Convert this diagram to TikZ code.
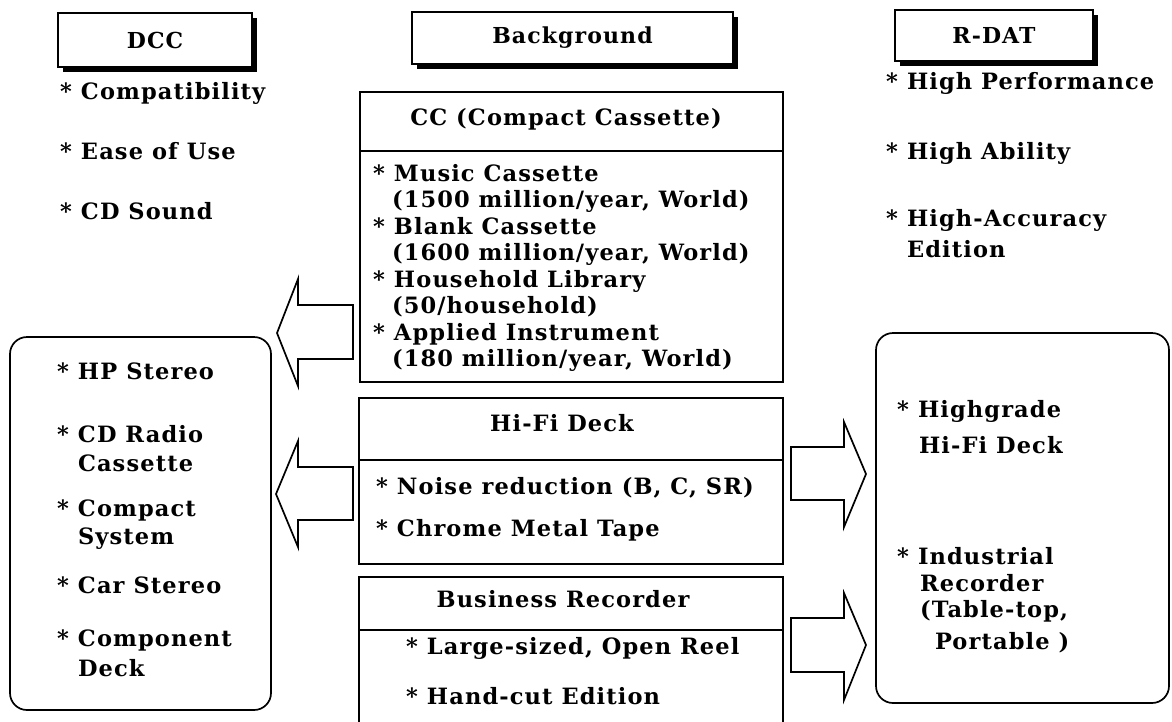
\documentclass[tikz,border=0pt]{standalone}
\usepackage{fontspec}
\newfontfamily\boxfont{DejaVu Serif}[LetterSpace=5]
\usetikzlibrary{shadows}
% leading asterisk of a list entry, in a fixed-width slot
\newcommand\itemstar{\makebox[21pt][l]{*}}
\begin{document}
\begin{tikzpicture}[x=1pt,y=-1pt,
  every node/.style={inner sep=0pt, outer sep=0pt},
  txt/.style={anchor=west, font=\boxfont\bfseries\fontsize{22.5}{25}\selectfont,
              text height=12pt, text depth=3pt},
  frame/.style={draw, line width=1.7pt, rectangle},
  header/.style={frame, fill=white, font=\boxfont\bfseries\fontsize{22}{24}\selectfont,
                 general shadow={fill=black, shadow xshift=5pt, shadow yshift=-5pt}},
  rbox/.style={frame, rounded corners=17pt},
  blockarrow/.style={draw, line width=1.7pt, line join=miter, fill=white},
]
\useasboundingbox (0,0) rectangle (1172,721);

% ---- column headers ----
\node[header, minimum width=194pt, minimum height=54pt] (dcc) at (155,40) {DCC};
\node[header, minimum width=321pt, minimum height=52pt] (bg) at (572.5,38) {Background};
\node[header, minimum width=198pt, minimum height=51pt] (rdat) at (994,35.5) {R-DAT};

% ---- DCC features ----
\node[txt] (l1) at (60,95)  {\itemstar Compatibility};
\node[txt] (l2) at (60,155) {\itemstar Ease of Use};
\node[txt] (l3) at (60,215) {\itemstar CD Sound};

% ---- R-DAT features ----
\node[txt] (r1) at (886,85)  {\itemstar High Performance};
\node[txt] (r2) at (886,155) {\itemstar High Ability};
\node[txt] (r3) at (886,222) {\itemstar High-Accuracy};
\node[txt] (r3b) at (907,253) {Edition};

% ---- Compact Cassette box ----
\node[frame, minimum width=423pt, minimum height=290pt] (cc) at (571.5,237) {};
\draw[line width=1.7pt] (cc.west |- 0,151) -- (cc.east |- 0,151);
\node[txt, anchor=center] (cct) at (566,121) {CC (Compact Cassette)};
\node[txt] (c1) at (373,177) {\itemstar Music Cassette};
\node[txt] (c2) at (392,203) {(1500 million/year, World)};
\node[txt] (c3) at (373,230) {\itemstar Blank Cassette};
\node[txt] (c4) at (392,256) {(1600 million/year, World)};
\node[txt] (c5) at (373,283) {\itemstar Household Library};
\node[txt] (c6) at (392,309) {(50/household)};
\node[txt] (c7) at (373,336) {\itemstar Applied Instrument};
\node[txt] (c8) at (392,362) {(180 million/year, World)};

% ---- Hi-Fi Deck box ----
\node[frame, minimum width=424pt, minimum height=166pt] (hifi) at (571,481) {};
\draw[line width=1.7pt] (hifi.west |- 0,460) -- (hifi.east |- 0,460);
\node[txt, anchor=center] (hft) at (562,427) {Hi-Fi Deck};
\node[txt] (h1) at (376,490) {\itemstar Noise reduction (B, C, SR)};
\node[txt] (h2) at (376,532) {\itemstar Chrome Metal Tape};

% ---- Business Recorder box (runs on below the page edge) ----
\draw[line width=1.7pt] (359,740) -- (359,577) coordinate (bnw) -- (783,577) coordinate (bne) -- (783,740);
\draw[line width=1.7pt] (359,630) -- (783,630);
\node[txt, anchor=center] (brt) at (563,603) {Business Recorder};
\node[txt] (b1) at (406,650) {\itemstar Large-sized, Open Reel};
\node[txt] (b2) at (406,700) {\itemstar Hand-cut Edition};

% ---- DCC product box ----
\node[rbox, minimum width=261pt, minimum height=373pt] (dccbox) at (140.5,523.5) {};
\node[txt] (d1) at (57,375) {\itemstar HP Stereo};
\node[txt] (d2) at (57,438) {\itemstar CD Radio};
\node[txt] (d2b) at (78,467) {Cassette};
\node[txt] (d3) at (57,512) {\itemstar Compact};
\node[txt] (d3b) at (78,540) {System};
\node[txt] (d4) at (57,589) {\itemstar Car Stereo};
\node[txt] (d5) at (57,642) {\itemstar Component};
\node[txt] (d5b) at (78,672) {Deck};

% ---- R-DAT product box ----
\node[rbox, minimum width=293pt, minimum height=370pt] (rdatbox) at (1022.5,518) {};
\node[txt] (p1) at (897,413) {\itemstar Highgrade};
\node[txt] (p1b) at (919,449) {Hi-Fi Deck};
\node[txt] (p2) at (897,560) {\itemstar Industrial};
\node[txt] (p2b) at (920,587) {Recorder};
\node[txt] (p2c) at (920,613) {(Table-top,};
\node[txt] (p2d) at (935,645) {Portable )};

% ---- block arrows ----
\draw[blockarrow] (353,305) -- (298,305) -- (298,279) -- (277,333) -- (298,386)
                  -- (298,359) -- (353,359) -- cycle;
\draw[blockarrow] (353,467) -- (298,467) -- (298,441) -- (276,494) -- (298,547)
                  -- (298,520) -- (353,520) -- cycle;
\draw[blockarrow] (791,447) -- (844,447) -- (844,422) -- (866,474) -- (844,527)
                  -- (844,500) -- (791,500) -- cycle;
\draw[blockarrow] (791,618) -- (844,618) -- (844,593) -- (866,645) -- (844,700)
                  -- (844,672) -- (791,672) -- cycle;
\end{tikzpicture}
\end{document}
